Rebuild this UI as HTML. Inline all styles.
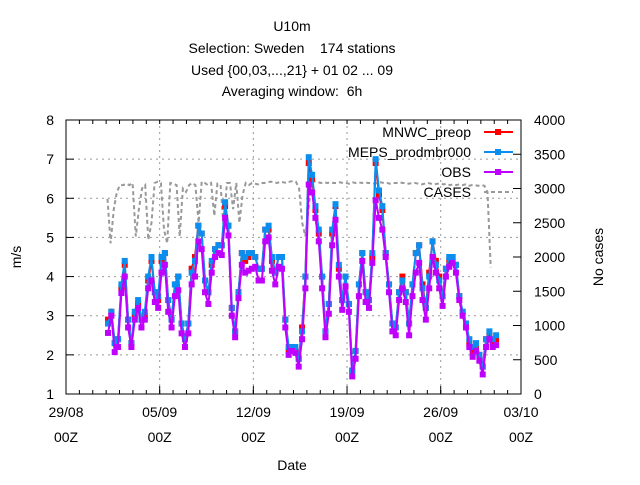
<!DOCTYPE html>
<html><head><meta charset="utf-8"><style>
body{margin:0;background:#fff}
svg{font-family:"Liberation Sans",sans-serif;font-size:14px}
text{white-space:pre}
</style></head><body>
<svg id="c" width="640" height="480" viewBox="0 0 640 480">
<g id="titles" text-anchor="middle" fill="#000">
<text x="292" y="31">U10m</text>
<text x="292" y="53">Selection: Sweden    174 stations</text>
<text x="292" y="75">Used {00,03,...,21} + 01 02 ... 09</text>
<text x="292" y="96">Averaging window:  6h</text>
</g>
<g id="grid"></g><g id="axes"></g><g id="series"></g><g id="legend"></g>
<text x="292" y="470" text-anchor="middle">Date</text>
<text transform="translate(21,257) rotate(-90)" text-anchor="middle">m/s</text>
<text transform="translate(603,257) rotate(-90)" text-anchor="middle">No cases</text>
</svg>
<script>
const xTickLabels=["29/08","05/09","12/09","19/09","26/09","03/10"];
const xTickDays=[0,7,14,21,28,34];
const yTicks=[1,2,3,4,5,6,7,8];
const y2Ticks=[0,500,1000,1500,2000,2500,3000,3500,4000];
const startDay=3.139, stepDay=0.25;
const obs=[2.56,3.0,2.07,2.2,3.58,4.0,2.7,2.2,2.9,3.2,2.7,2.9,3.7,3.9,3.35,3.2,4.1,4.3,3.1,2.7,3.5,3.65,2.55,2.2,2.55,3.8,4.0,4.9,4.7,3.6,3.3,4.1,4.5,4.6,4.55,5.5,5.05,
3.0,2.45,3.45,
4.3,4.1,4.15,4.2,4.25,3.9,3.9,4.9,5.0,4.15,3.8,4.25,4.2,2.7,2.0,2.1,2.05,1.7,2.4,3.7,6.35,6.15,5.5,4.9,3.7,2.45,3.05,4.8,5.45,4.0,3.15,3.75,3.1,1.45,1.9,3.5,4.4,3.35,3.2,4.35,
5.95,5.5,5.2,4.5,3.6,2.6,2.5,3.4,3.7,3.35,2.5,3.5,4.1,4.35,3.4,2.9,3.7,4.5,4.1,3.7,3.25,4.0,4.25,4.35,4.1,3.4,3.0,2.7,2.2,1.95,2.1,1.85,1.5,2.2,2.4,2.2,2.25];
const meps=[2.8,3.1,2.3,2.4,3.8,4.4,2.9,2.3,3.1,3.4,2.9,3.1,4.0,4.5,3.6,3.5,4.5,4.6,3.4,2.9,3.8,4.0,2.8,2.4,2.8,4.1,4.4,5.3,5.1,3.9,3.6,4.4,4.7,4.8,4.8,5.9,5.3,
3.2,2.6,3.6,
4.6,4.5,4.6,4.6,4.5,4.2,4.2,5.2,5.3,4.5,4.1,4.5,4.5,2.9,2.2,2.2,2.2,1.9,2.6,4.0,7.05,6.6,5.8,5.2,4.0,2.6,3.3,5.2,5.85,4.3,3.4,4.0,3.3,1.6,2.1,3.8,4.6,3.6,3.4,4.6,
7.0,6.2,5.8,4.6,3.8,2.8,2.7,3.6,3.9,3.6,2.8,3.8,4.6,4.8,3.7,3.2,4.0,4.9,4.3,3.9,3.5,4.2,4.5,4.5,4.3,3.5,3.1,2.8,2.4,2.2,2.3,2.0,1.7,2.4,2.6,2.4,2.5];
const mnwc=[2.9,3.1,2.3,2.4,3.7,4.3,2.9,2.3,3.0,3.3,2.9,3.0,3.9,4.4,3.6,3.4,4.4,4.6,3.4,2.9,3.8,4.0,2.8,2.4,2.8,4.2,4.5,5.3,5.1,3.9,3.6,4.3,4.7,4.8,4.8,5.8,5.3,
3.2,2.6,3.6,
4.6,4.4,4.5,4.6,4.5,4.2,4.2,5.2,5.2,4.4,4.1,4.5,4.5,2.9,2.1,2.2,2.1,1.9,2.7,4.0,6.9,6.5,5.7,5.1,4.0,2.6,3.3,5.1,5.8,4.2,3.4,4.0,3.3,1.6,2.1,3.8,4.6,3.6,3.4,4.5,
6.9,6.1,5.7,4.6,3.8,2.8,2.7,3.6,4.0,3.6,2.8,3.8,4.6,4.8,3.8,3.2,4.1,4.9,4.4,4.0,3.5,4.2,4.4,4.5,4.3,3.5,3.1,2.8,2.3,2.1,2.2,2.0,1.7,2.4,2.5,2.3,2.4];
const casesStart=3.1, casesStep=0.2347;
const cases=[2850,2200,2700,2950,3050,3050,3070,3050,3080,2300,2700,3000,3050,2250,2500,3080,3100,3080,2400,2200,3080,3070,3050,2300,3000,2950,3050,3080,3050,2500,3100,3080,3050,3080,2600,3070,3050,2400,3080,3080,2700,3080,2500,2900,3080,3050,3080,3070,3060,3080,3080,3090,3100,3090,3080,3100,3090,3080,3100,3110,3100,3000,2500,2300,2700,3110,3100,3090,3080,3090,3080,3090,3080,3080,3090,3080,3080,3070,3090,3080,3090,3080,3090,3080,3080,3070,3080,3090,3080,3080,3070,3080,3080,3090,3080,3080,3070,3080,3080,3070,3060,3070,3080,3070,3060,3070,3070,3060,3070,3050,3060,3050,3060,3050,3060,3040,3050,3050,3040,3050,3040,2950,1850];
const L=66,R=521,T=120,B=394;
const xs=d=>L+d*(R-L)/34;
const ys=v=>B-(v-1)*(B-T)/7;
const y2=v=>B-v*(B-T)/4000;
const NS="http://www.w3.org/2000/svg";
function mk(tag,attrs,parent){const e=document.createElementNS(NS,tag);for(const k in attrs)e.setAttribute(k,attrs[k]);parent.appendChild(e);return e;}
const grid=document.getElementById('grid'),axes=document.getElementById('axes'),series=document.getElementById('series'),legend=document.getElementById('legend');
yTicks.forEach((v,i)=>{const y=ys(v);
 if(i>0&&i<yTicks.length-1){const g=mk('line',{x1:L,x2:R,y1:y,y2:y,stroke:'#999','stroke-dasharray':'2,4'},grid);}
 mk('line',{x1:L,x2:L+8,y1:y,y2:y,stroke:'#000'},axes);
 const t=mk('text',{x:54,y:y+5,'text-anchor':'end'},axes);t.textContent=v;
 });
y2Ticks.forEach(v=>{const y=y2(v);
 mk('line',{x1:R-8,x2:R,y1:y,y2:y,stroke:'#000'},axes);
 const t=mk('text',{x:534,y:y+5},axes);t.textContent=v;
 });
for(let d=1;d<34;d++){const x=xs(d);mk('line',{x1:x,x2:x,y1:B,y2:B-4,stroke:'#000'},axes);mk('line',{x1:x,x2:x,y1:T,y2:T+4,stroke:'#000'},axes);}
xTickDays.forEach((d,i)=>{const x=xs(d);
 if(i>0&&i<xTickDays.length-1){const g=mk('line',{x1:x,x2:x,y1:T,y2:B,stroke:'#999','stroke-dasharray':'2,4'},grid);}
 mk('line',{x1:x,x2:x,y1:B,y2:B-8,stroke:'#000'},axes);
 const t=mk('text',{x:x,y:417,'text-anchor':'middle'},axes);t.textContent=xTickLabels[i];
 
 const t2=mk('text',{x:x,y:442,'text-anchor':'middle'},axes);t2.textContent='00Z';
 });
const fr=mk('rect',{x:L,y:T,width:R-L,height:B-T,fill:'none',stroke:'#000'},axes);

const cp=cases.map((v,i)=>xs(casesStart+i*casesStep).toFixed(1)+','+y2(v).toFixed(1)).join(' ');
const cl=mk('polyline',{points:cp,fill:'none',stroke:'#999','stroke-width':2,'stroke-dasharray':'4,3'},series);

function drawSeries(arr,color,name){
 const g=mk('g',{},series);
 const pts=arr.map((v,i)=>[xs(startDay+i*stepDay),ys(v)]);
 mk('polyline',{points:pts.map(p=>p[0].toFixed(1)+','+p[1].toFixed(1)).join(' '),fill:'none',stroke:color,'stroke-width':2},g);
 pts.forEach(p=>{const r=mk('rect',{x:p[0]-3,y:p[1]-3,width:6,height:6,fill:color},g);});
}
drawSeries(mnwc,'#ff0000','mnwc-series');
drawSeries(meps,'#0a8ff0','meps-series');
drawSeries(obs,'#c000ff','obs-series');
const ln=[['MNWC_preop','#ff0000',true],['MEPS_prodmbr000','#0a8ff0',true],['OBS','#c000ff',true],['CASES','#999',false]];
ln.forEach((l,i)=>{const y=137+i*20;
 const g=mk('g',{},legend);
 const t=mk('text',{x:471,y:y,'text-anchor':'end'},g);t.textContent=l[0];
 if(l[2]){mk('line',{x1:484,x2:513,y1:y-5,y2:y-5,stroke:l[1],'stroke-width':2},g);mk('rect',{x:495,y:y-8,width:6,height:6,fill:l[1]},g);}
 else mk('line',{x1:484,x2:513,y1:y-5,y2:y-5,stroke:l[1],'stroke-width':2,'stroke-dasharray':'4,3'},g);
});
</script>
</body></html>
